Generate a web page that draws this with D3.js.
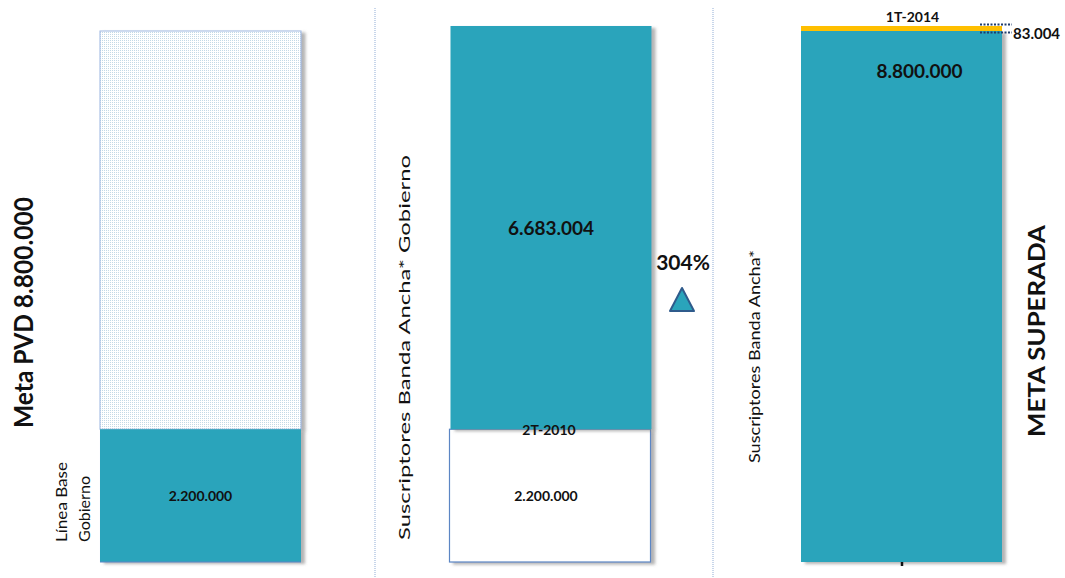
<!DOCTYPE html>
<html>
<head>
<meta charset="utf-8">
<script src="https://cdn.jsdelivr.net/npm/d3@7"></script>
<style>
  body { margin: 0; background: #fff; }
  text { font-family: Lato, "Open Sans", sans-serif; fill: #111; }
</style>
</head>
<body>
<svg id="chart"></svg>
<script>
const width = 1065;
const height = 578;

// data
const panels = ['meta', 'base', 'actual'];
const lowerValues = [2200000, 2200000, 8800000];
const upperValues = [6600000, 6683004, 83004];
const lowerLabels = ['2.200.000', '2.200.000', '8.800.000'];
const upperLabels = ['', '6.683.004', '83.004'];
const periodLabels = ['', '2T-2010', '1T-2014'];
const growthLabel = '304%';
const metaValue = 8800000;

const teal = '#2aa4bb';
const orange = '#ffbf00';

const svg = d3.select('#chart')
  .attr('width', width)
  .attr('height', height);

const defs = svg.append('defs');

const dots = defs.append('pattern')
  .attr('id', 'dots')
  .attr('width', 2)
  .attr('height', 2)
  .attr('patternUnits', 'userSpaceOnUse');
dots.append('rect').attr('width', 2).attr('height', 2).attr('fill', '#fff');
dots.append('rect').attr('width', 1).attr('height', 1).attr('fill', '#c3d9e6');

defs.append('filter')
  .attr('id', 'shadow')
  .attr('x', '-10%').attr('y', '-10%')
  .attr('width', '130%').attr('height', '130%')
  .append('feDropShadow')
  .attr('dx', 4).attr('dy', 2)
  .attr('stdDeviation', 1.5)
  .attr('flood-color', '#777')
  .attr('flood-opacity', 0.55);

const x = d3.scaleBand()
  .domain(panels)
  .range([25.25, 1076.75])
  .paddingInner(0.4265)
  .paddingOuter(0.21325);

const y = d3.scaleLinear()
  .domain([0, metaValue])
  .range([562, 31]);

// panel dividers
[375, 713].forEach((xp) => {
  svg.append('line')
    .attr('x1', xp).attr('x2', xp)
    .attr('y1', 8).attr('y2', height)
    .attr('stroke', '#c8d6ea')
    .attr('stroke-width', 2)
    .attr('stroke-dasharray', '1,1');
});

// panel 1: meta (dotted) over base
svg.append('rect')
  .attr('x', x('meta'))
  .attr('y', y(lowerValues[0] + upperValues[0]))
  .attr('width', x.bandwidth())
  .attr('height', y(lowerValues[0]) - y(lowerValues[0] + upperValues[0]))
  .attr('fill', 'url(#dots)')
  .attr('stroke', '#9db7e2')
  .attr('stroke-width', 1)
  .attr('filter', 'url(#shadow)');

svg.append('rect')
  .attr('x', x('meta'))
  .attr('y', y(lowerValues[0]))
  .attr('width', x.bandwidth())
  .attr('height', y(0) - y(lowerValues[0]))
  .attr('fill', teal)
  .attr('filter', 'url(#shadow)');

svg.append('line')
  .attr('x1', x('meta')).attr('x2', x('meta') + x.bandwidth())
  .attr('y1', y(0)).attr('y2', y(0))
  .attr('stroke', '#5b86c4');

// panel 2: white base box with teal growth above
svg.append('rect')
  .attr('x', x('base') - 1)
  .attr('y', y(lowerValues[1]))
  .attr('width', x.bandwidth())
  .attr('height', y(0) - y(lowerValues[1]))
  .attr('fill', '#fff')
  .attr('stroke', '#5b86c4')
  .attr('stroke-width', 1.2)
  .attr('filter', 'url(#shadow)');

svg.append('rect')
  .attr('x', x('base'))
  .attr('y', y(lowerValues[1] + upperValues[1]))
  .attr('width', x.bandwidth())
  .attr('height', y(lowerValues[1]) - y(lowerValues[1] + upperValues[1]))
  .attr('fill', teal)
  .attr('filter', 'url(#shadow)');

// panel 3: teal actual with orange excess
svg.append('rect')
  .attr('x', x('actual'))
  .attr('y', y(lowerValues[2]))
  .attr('width', x.bandwidth())
  .attr('height', y(0) - y(lowerValues[2]))
  .attr('fill', teal)
  .attr('filter', 'url(#shadow)');

svg.append('rect')
  .attr('x', x('actual'))
  .attr('y', y(lowerValues[2] + upperValues[2]))
  .attr('width', x.bandwidth())
  .attr('height', y(lowerValues[2]) - y(lowerValues[2] + upperValues[2]))
  .attr('fill', orange);

// leader lines for the excess
const leadX1 = x('actual') + x.bandwidth() - 22;
[lowerValues[2] + upperValues[2], lowerValues[2]].forEach((v, i) => {
  svg.append('line')
    .attr('x1', leadX1).attr('x2', 1012)
    .attr('y1', y(v) - 1.5 + i * 3).attr('y2', y(v) - 1.5 + i * 3)
    .attr('stroke', '#1f3d6e')
    .attr('stroke-width', 2)
    .attr('stroke-dasharray', '2,1.5');
});

// value labels
const mid = (p) => x(p) + x.bandwidth() / 2;

svg.append('text')
  .attr('x', mid('meta')).attr('y', (y(0) + y(lowerValues[0])) / 2 + 5)
  .attr('text-anchor', 'middle')
  .attr('font-size', 14).attr('font-weight', 'bold')
  .text(lowerLabels[0]);

svg.append('text')
  .attr('x', mid('base') - 5).attr('y', (y(0) + y(lowerValues[1])) / 2 + 5)
  .attr('text-anchor', 'middle')
  .attr('font-size', 14).attr('font-weight', 'bold')
  .text(lowerLabels[1]);

svg.append('text')
  .attr('x', mid('base')).attr('y', y(lowerValues[1] + upperValues[1] / 2) + 7)
  .attr('text-anchor', 'middle')
  .attr('font-size', 19).attr('font-weight', 'bold')
  .text(upperLabels[1]);

svg.append('text')
  .attr('x', mid('base') - 2).attr('y', y(lowerValues[1]) + 6)
  .attr('text-anchor', 'middle')
  .attr('font-size', 14).attr('font-weight', 'bold')
  .text(periodLabels[1]);

svg.append('text')
  .attr('x', mid('actual') + 18).attr('y', 78)
  .attr('text-anchor', 'middle')
  .attr('font-size', 19).attr('font-weight', 'bold')
  .text(lowerLabels[2]);

svg.append('text')
  .attr('x', mid('actual') + 11).attr('y', 22)
  .attr('text-anchor', 'middle')
  .attr('font-size', 14).attr('font-weight', 'bold')
  .text(periodLabels[2]);

svg.append('text')
  .attr('x', 1013).attr('y', 39)
  .attr('font-size', 15).attr('font-weight', 'bold')
  .text(upperLabels[2]);

// growth marker
svg.append('text')
  .attr('x', 683).attr('y', 270)
  .attr('text-anchor', 'middle')
  .attr('font-size', 21).attr('font-weight', 'bold')
  .text(growthLabel);

svg.append('path')
  .attr('d', d3.line()([[682, 288], [694, 311], [670, 311]]) + 'Z')
  .attr('fill', teal)
  .attr('stroke', '#2f5b8c')
  .attr('stroke-width', 2)
  .attr('stroke-linejoin', 'round');

// small mark under the last bar
svg.append('line')
  .attr('x1', 902).attr('x2', 902)
  .attr('y1', 562).attr('y2', 566)
  .attr('stroke', '#111')
  .attr('stroke-width', 2.5);

// rotated labels
const vlabel = (tx, ty, txt, size, weight, anchor, len) => {
  const t = svg.append('text')
    .attr('transform', `translate(${tx},${ty}) rotate(-90)`)
    .attr('text-anchor', anchor)
    .attr('font-size', size)
    .attr('font-weight', weight)
    .text(txt);
  if (len) t.attr('textLength', len).attr('lengthAdjust', 'spacingAndGlyphs');
  return t;
};

vlabel(33, 312.5, 'Meta PVD 8.800.000', 27, 'bold', 'middle', 231);
vlabel(67, 542, 'Línea Base', 15, 'normal', 'start', 80);
vlabel(90, 542, 'Gobierno', 15, 'normal', 'start', 66);
vlabel(410, 347.5, 'Suscriptores Banda Ancha*  Gobierno', 16, 'normal', 'middle', 385);
vlabel(760, 356.5, 'Suscriptores Banda Ancha*', 16, 'normal', 'middle', 213);
vlabel(1045, 331, 'META SUPERADA', 23, 'bold', 'middle', 212);
</script>
</body>
</html>
